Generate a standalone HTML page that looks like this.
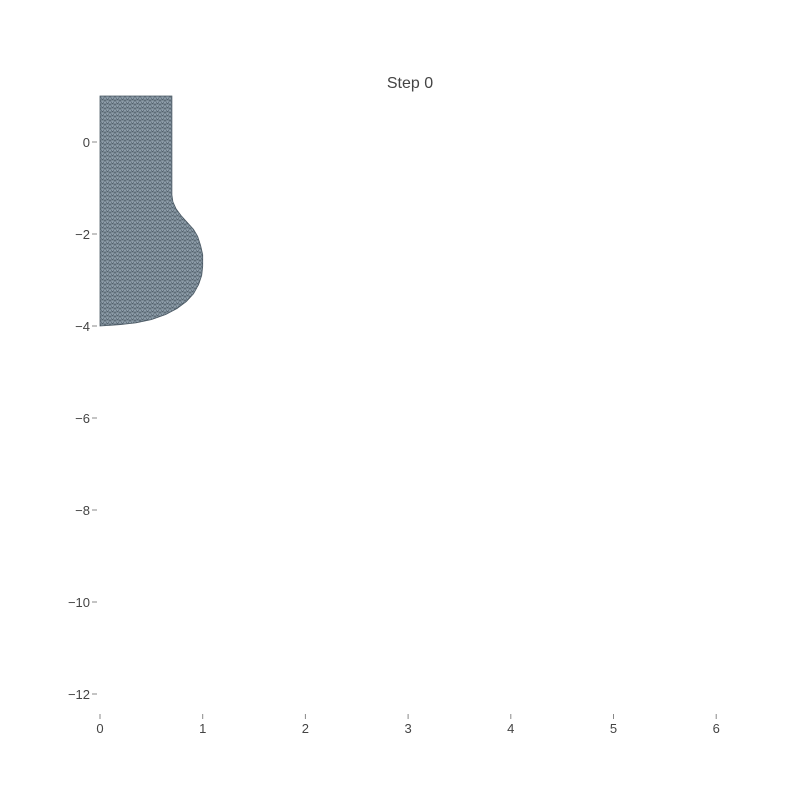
<!DOCTYPE html>
<html><head><meta charset="utf-8"><style>
html,body{margin:0;padding:0;background:#fff;}
svg{display:block;font-family:"Liberation Sans",sans-serif;}
</style></head><body>
<svg id="chart" width="800" height="800">
<defs>
<pattern id="mesh" width="5" height="4" patternUnits="userSpaceOnUse">
<rect width="5" height="4" fill="#8e9eaa"/>
<path d="M0 0H5M0 0L2.5 4L5 0M0 4H5" stroke="#3d4a55" stroke-width="0.5" fill="none"/>
</pattern>
</defs>
<text x="410" y="88" text-anchor="middle" font-size="16" fill="#444">Step 0</text>
<g id="yaxis"></g>
<g id="xaxis"></g>
<g id="plot"></g>
</svg>
<script>
const xTicks=[0,1,2,3,4,5,6];
const yTicks=[0,-2,-4,-6,-8,-10,-12];
const profileR=[0,0.7,0.7,0.7,0.7,0.71,0.74,0.79,0.85,0.91,0.95,0.98,1.0,1.0,0.99,0.96,0.91,0.84,0.75,0.64,0.5,0.35,0.2,0.08,0];
const profileZ=[1,1,0,-1,-1.15,-1.3,-1.45,-1.6,-1.75,-1.9,-2.05,-2.25,-2.45,-2.7,-2.9,-3.1,-3.3,-3.47,-3.62,-3.75,-3.86,-3.93,-3.97,-3.99,-4];
const X=v=>100+v*102.7;
const Y=v=>142-v*46;
const NS="http://www.w3.org/2000/svg";
const ya=document.getElementById('yaxis'),xa=document.getElementById('xaxis'),pl=document.getElementById('plot');
yTicks.forEach(t=>{
 const tx=document.createElementNS(NS,'text');
 
 
 tx.setAttribute('x',90);tx.setAttribute('y',Y(t)+5);tx.setAttribute('text-anchor','end');
 tx.setAttribute('font-size','13');tx.setAttribute('fill','#444');
 tx.textContent=t<0?'\u2212'+(-t):String(t);ya.appendChild(tx);
 const l=document.createElementNS(NS,'line');
 
 
 l.setAttribute('x1',92);l.setAttribute('x2',97);l.setAttribute('y1',Y(t));l.setAttribute('y2',Y(t));
 l.setAttribute('stroke','#888');l.setAttribute('stroke-width','1');ya.appendChild(l);
});
xTicks.forEach(t=>{
 const tx=document.createElementNS(NS,'text');
 
 
 tx.setAttribute('x',X(t));tx.setAttribute('y',733);tx.setAttribute('text-anchor','middle');
 tx.setAttribute('font-size','13');tx.setAttribute('fill','#444');
 tx.textContent=String(t);xa.appendChild(tx);
 const l=document.createElementNS(NS,'line');
 
 
 l.setAttribute('x1',X(t));l.setAttribute('x2',X(t));l.setAttribute('y1',714);l.setAttribute('y2',719);
 l.setAttribute('stroke','#888');xa.appendChild(l);
});
let d='M'+X(0)+' '+Y(profileZ[0]);
profileR.forEach((r,i)=>{d+=' L'+X(r).toFixed(1)+' '+Y(profileZ[i]).toFixed(1);});
d+=' Z';
const p=document.createElementNS(NS,'path');


p.setAttribute('d',d);p.setAttribute('fill','url(#mesh)');p.setAttribute('stroke','#4a5863');p.setAttribute('stroke-width','0.8');
pl.appendChild(p);
</script>
</body></html>
